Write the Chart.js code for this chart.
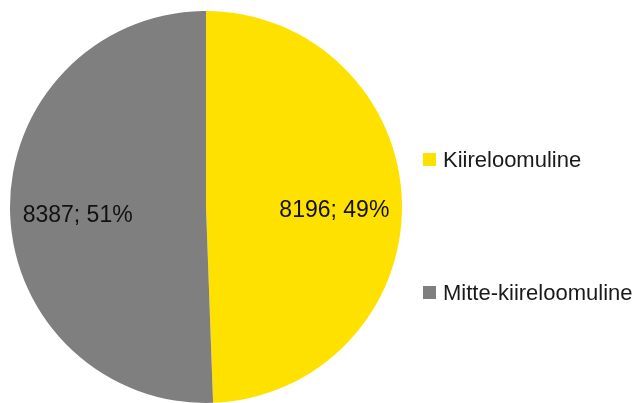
<!DOCTYPE html>
<html>
<head>
<meta charset="utf-8">
<script src="https://cdn.jsdelivr.net/npm/chart.js@4/dist/chart.umd.min.js"></script>
<style>
  html, body { margin: 0; padding: 0; background: #fff; }
  #wrap { width: 632px; height: 403px; position: relative; }
</style>
</head>
<body>
<div id="wrap"><canvas id="myChart"></canvas></div>
<script>
const categories = ["Kiireloomuline", "Mitte-kiireloomuline"];
const values = [8196, 8387];
const colors = ["#ffe100", "#7f7f80"];

const total = values.reduce((a, b) => a + b, 0);
const FONT = "'Liberation Sans', Arial, sans-serif";

// value; percent labels inside the slices
const sliceLabels = {
    id: "sliceLabels",
    afterDatasetsDraw(chart) {
        const ctx = chart.ctx;
        const meta = chart.getDatasetMeta(0);
        ctx.save();
        ctx.font = "23px " + FONT;
        ctx.fillStyle = "#111";
        ctx.textAlign = "center";
        ctx.textBaseline = "middle";
        meta.data.forEach((arc, i) => {
            const p = arc.getProps(["x", "y", "startAngle", "endAngle", "outerRadius"], true);
            const mid = (p.startAngle + p.endAngle) / 2;
            const r = p.outerRadius * 0.655;
            const pct = Math.round(values[i] / total * 100);
            ctx.fillText(values[i] + "; " + pct + "%",
                p.x + Math.cos(mid) * r,
                p.y + Math.sin(mid) * r + 6);
        });
        ctx.restore();
    }
};

// legend on the right, items spread out like the original
const sideLegend = {
    id: "sideLegend",
    afterDraw(chart) {
        const ctx = chart.ctx;
        const tops = [159.5, 292.5];
        ctx.save();
        ctx.font = "22px " + FONT;
        ctx.textBaseline = "middle";
        ctx.textAlign = "left";
        categories.forEach((name, i) => {
            ctx.fillStyle = colors[i];
            ctx.fillRect(423, tops[i] - 6.5, 13, 13);
            ctx.fillStyle = "#1a1a1a";
            ctx.fillText(name, 443, tops[i] + 1);
        });
        ctx.restore();
    }
};

new Chart(document.getElementById("myChart"), {
    type: "pie",
    data: {
        labels: categories,
        datasets: [{
            data: values,
            backgroundColor: colors,
            borderWidth: 0
        }]
    },
    options: {
        responsive: true,
        maintainAspectRatio: false,
        animation: false,
        layout: { padding: { left: 10, right: 230, top: 11, bottom: 0 } },
        plugins: {
            legend: { display: false },
            tooltip: { enabled: false }
        }
    },
    plugins: [sliceLabels, sideLegend]
});
</script>
</body>
</html>
